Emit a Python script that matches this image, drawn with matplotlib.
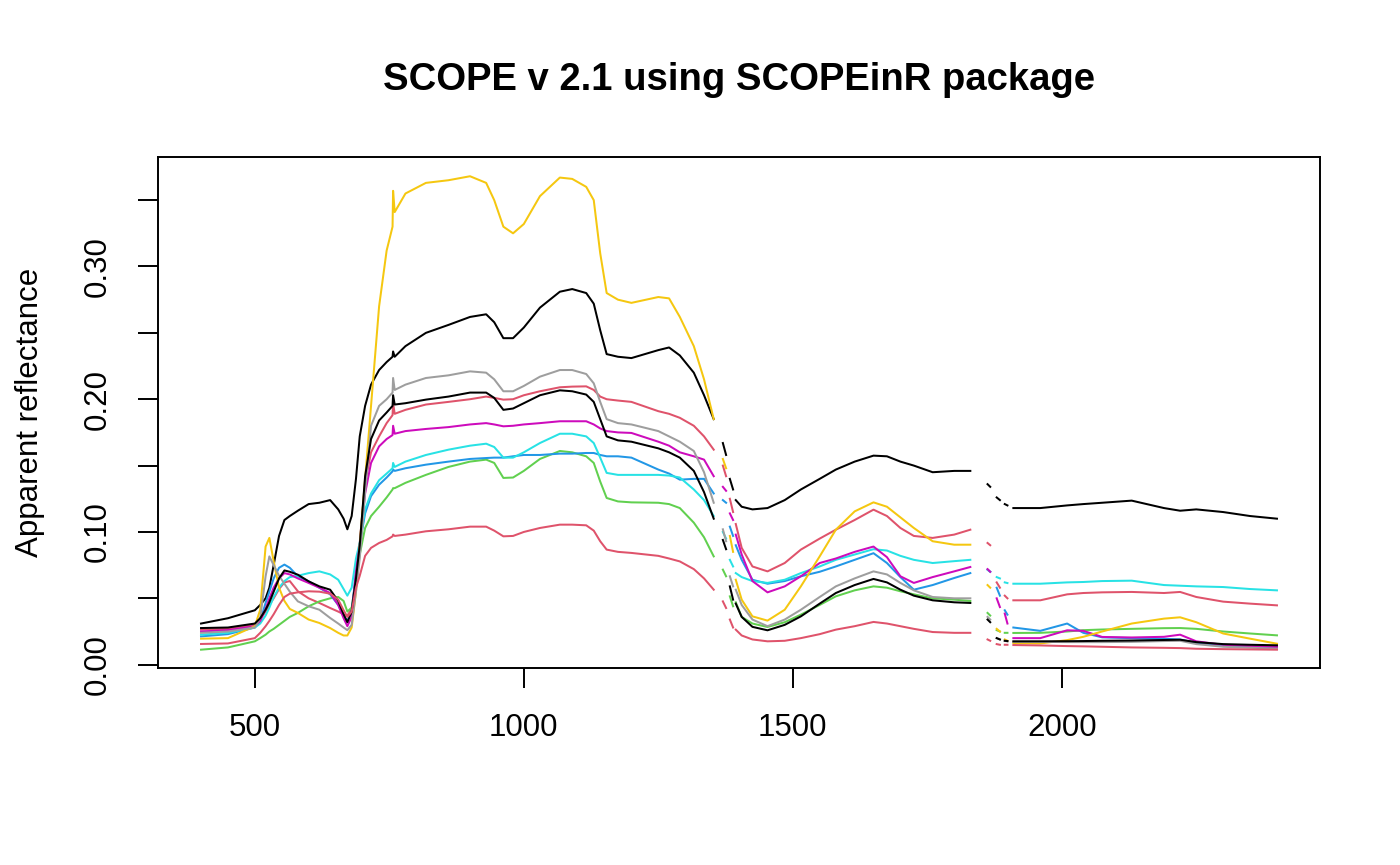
import numpy as np
import matplotlib
matplotlib.use("Agg")
import matplotlib.pyplot as plt

nan = np.nan

# wavelength grid (nm); NaN rows mark missing water-band samples
wl = [400, 450, 500, 510, 520, 527, 535, 545, 555, 565, 580, 600, 620, 640, 655, 665, 672, 680, 688, 695,
      705, 716, 731, 745, 756, 757, 760, 780, 818, 860, 900, 930, 945, 962, 980, 1000, 1030, 1067, 1090, 1116,
      1130, 1142, 1154, 1175, 1200, 1250, 1270, 1290, 1316, 1335, 1353, 1360, 1370, 1376, 1379, 1383, 1389, 1391,
      1394, 1405, 1425, 1453, 1485, 1515, 1550, 1580, 1615, 1650, 1675, 1700, 1725, 1760, 1800, 1830, 1845,
      1862, 1867, 1872, 1879, 1885, 1889, 1894, 1899, 1903, 1910, 1960, 2010, 2040, 2075, 2130, 2190, 2220,
      2250, 2300, 2350, 2400]

black1 = [0.031, 0.035, 0.041, 0.045, 0.050, 0.058, 0.075, 0.097, 0.109, 0.112, 0.116, 0.121, 0.122, 0.124, 0.117, 0.110, 0.102, 0.112, 0.140, 0.172,
          0.195, 0.211, 0.222, 0.228, 0.232, 0.236, 0.232, 0.240, 0.250, 0.256, 0.262, 0.264, 0.258, 0.246, 0.246, 0.254, 0.269, 0.281, 0.283, 0.280,
          0.272, 0.252, 0.234, 0.232, 0.231, 0.237, 0.239, 0.233, 0.220, 0.203, 0.185, nan, 0.167, 0.158, nan, 0.140, 0.132, nan,
          0.124, 0.119, 0.117, 0.118, 0.124, 0.132, 0.140, 0.147, 0.153, 0.1575, 0.157, 0.153, 0.150, 0.145, 0.146, 0.146, nan,
          0.136, 0.134, nan, 0.126, 0.124, nan, 0.121, 0.120, nan, 0.118, 0.118, 0.120, 0.121, 0.122, 0.1236, 0.118, 0.116,
          0.117, 0.115, 0.112, 0.110]

red1 = [0.0264, 0.027, 0.030, 0.034, 0.040, 0.045, 0.050, 0.057, 0.062, 0.063, 0.0553, 0.050, 0.0465, 0.0427, 0.040, 0.038, 0.037, 0.042, 0.065, 0.092,
        0.137, 0.160, 0.172, 0.182, 0.188, 0.197, 0.189, 0.192, 0.196, 0.198, 0.200, 0.202, 0.201, 0.1997, 0.200, 0.203, 0.206, 0.209, 0.2095, 0.2097,
        0.207, 0.202, 0.200, 0.199, 0.198, 0.191, 0.189, 0.186, 0.180, 0.172, 0.162, nan, 0.150, 0.142, nan, 0.125, 0.115, nan,
        0.106, 0.088, 0.074, 0.0703, 0.0766, 0.0867, 0.095, 0.1017, 0.109, 0.1168, 0.112, 0.103, 0.097, 0.0955, 0.098, 0.1017, nan,
        0.0917, 0.090, nan, 0.062, 0.058, nan, 0.052, 0.050, nan, 0.0485, 0.0485, 0.053, 0.054, 0.0545, 0.0548, 0.054, 0.0548,
        0.051, 0.0475, 0.046, 0.0447]

green = [0.0113, 0.013, 0.0176, 0.020, 0.0226, 0.025, 0.027, 0.030, 0.033, 0.036, 0.039, 0.044, 0.0477, 0.050, 0.051, 0.048, 0.040, 0.043, 0.065, 0.083,
         0.103, 0.112, 0.119, 0.126, 0.132, 0.133, 0.133, 0.137, 0.143, 0.149, 0.153, 0.1545, 0.152, 0.1407, 0.141, 0.146, 0.155, 0.161, 0.160, 0.157,
         0.152, 0.138, 0.1256, 0.123, 0.1223, 0.122, 0.121, 0.118, 0.107, 0.096, 0.0816, nan, 0.0716, 0.0666, nan, 0.0515, 0.044, nan,
         0.047, 0.036, 0.031, 0.0284, 0.032, 0.0377, 0.045, 0.0515, 0.056, 0.059, 0.058, 0.0553, 0.053, 0.050, 0.049, 0.048, nan,
         0.039, 0.037, nan, 0.026, 0.025, nan, 0.024, 0.024, nan, 0.0239, 0.024, 0.025, 0.026, 0.0265, 0.027, 0.0275, 0.0276,
         0.027, 0.025, 0.0235, 0.0221]

blue = [0.0213, 0.023, 0.028, 0.033, 0.0465, 0.055, 0.065, 0.073, 0.0754, 0.073, 0.0666, 0.0628, 0.058, 0.053, 0.045, 0.037, 0.033, 0.040, 0.070, 0.091,
        0.114, 0.127, 0.1356, 0.141, 0.1457, 0.147, 0.146, 0.148, 0.1507, 0.153, 0.155, 0.1557, 0.156, 0.156, 0.157, 0.158, 0.158, 0.159, 0.159, 0.1595,
        0.1595, 0.158, 0.157, 0.157, 0.156, 0.147, 0.144, 0.1394, 0.140, 0.140, 0.129, nan, 0.124, 0.122, nan, 0.104, 0.097, nan,
        0.090, 0.079, 0.064, 0.061, 0.063, 0.0666, 0.070, 0.074, 0.079, 0.084, 0.0766, 0.066, 0.0565, 0.060, 0.0653, 0.069, nan,
        0.0716, 0.070, nan, 0.058, 0.052, nan, 0.041, 0.0377, nan, 0.028, 0.0255, 0.031, 0.024, 0.0206, 0.020, 0.0195, 0.019,
        0.0165, 0.014, 0.0135, 0.013]

cyan = [0.0226, 0.024, 0.028, 0.031, 0.037, 0.043, 0.051, 0.058, 0.063, 0.066, 0.067, 0.069, 0.0703, 0.068, 0.064, 0.057, 0.052, 0.058, 0.080, 0.092,
        0.117, 0.129, 0.139, 0.144, 0.148, 0.152, 0.149, 0.153, 0.158, 0.162, 0.165, 0.1665, 0.164, 0.156, 0.156, 0.160, 0.167, 0.174, 0.174, 0.172,
        0.167, 0.156, 0.1445, 0.143, 0.143, 0.143, 0.1425, 0.141, 0.132, 0.124, 0.112, nan, 0.100, 0.095, nan, 0.079, 0.074, nan,
        0.069, 0.066, 0.063, 0.0616, 0.064, 0.069, 0.074, 0.079, 0.083, 0.087, 0.086, 0.082, 0.079, 0.0766, 0.078, 0.079, nan,
        0.0716, 0.070, nan, 0.066, 0.065, nan, 0.062, 0.0615, nan, 0.061, 0.061, 0.062, 0.0623, 0.063, 0.0633, 0.060, 0.0595,
        0.059, 0.0585, 0.057, 0.056]

magenta = [0.025, 0.026, 0.029, 0.033, 0.042, 0.050, 0.058, 0.065, 0.069, 0.068, 0.065, 0.0616, 0.058, 0.054, 0.045, 0.035, 0.029, 0.036, 0.070, 0.090,
           0.129, 0.152, 0.1645, 0.170, 0.173, 0.180, 0.174, 0.176, 0.1776, 0.179, 0.181, 0.182, 0.181, 0.1796, 0.180, 0.181, 0.182, 0.1834, 0.1834, 0.1834,
           0.181, 0.178, 0.176, 0.175, 0.1746, 0.168, 0.165, 0.160, 0.157, 0.1545, 0.142, nan, 0.134, 0.131, nan, 0.114, 0.109, nan,
           0.098, 0.083, 0.063, 0.0545, 0.059, 0.0666, 0.0766, 0.080, 0.085, 0.089, 0.081, 0.0666, 0.0616, 0.066, 0.0703, 0.0736, nan,
           0.072, 0.070, nan, 0.050, 0.0434, nan, 0.0385, 0.031, nan, 0.020, 0.020, 0.0259, 0.0255, 0.0209, 0.0205, 0.021, 0.0226,
           0.0176, 0.015, 0.014, 0.0134]

yellow = [0.0196, 0.020, 0.029, 0.0414, 0.089, 0.0955, 0.078, 0.058, 0.048, 0.042, 0.039, 0.034, 0.0314, 0.0276, 0.024, 0.022, 0.022, 0.028, 0.055, 0.090,
          0.140, 0.195, 0.270, 0.312, 0.330, 0.357, 0.341, 0.355, 0.363, 0.365, 0.368, 0.363, 0.350, 0.330, 0.325, 0.332, 0.353, 0.367, 0.366, 0.360,
          0.350, 0.310, 0.280, 0.275, 0.2726, 0.277, 0.276, 0.262, 0.240, 0.215, 0.185, nan, 0.155, 0.148, nan, 0.097, 0.085, nan,
          0.064, 0.049, 0.0364, 0.0332, 0.0414, 0.059, 0.0816, 0.1017, 0.1155, 0.1223, 0.119, 0.111, 0.103, 0.093, 0.0904, 0.0904, nan,
          0.060, 0.058, nan, 0.027, 0.025, nan, 0.019, 0.018, nan, 0.0163, 0.016, 0.0185, 0.021, 0.025, 0.031, 0.0347, 0.0357,
          0.032, 0.0235, 0.0196, 0.0158]

gray = [0.024, 0.025, 0.028, 0.035, 0.0666, 0.0816, 0.075, 0.067, 0.061, 0.055, 0.0477, 0.044, 0.0414, 0.0352, 0.031, 0.028, 0.026, 0.030, 0.055, 0.080,
        0.130, 0.180, 0.195, 0.200, 0.205, 0.216, 0.207, 0.211, 0.216, 0.218, 0.221, 0.220, 0.215, 0.206, 0.206, 0.210, 0.217, 0.222, 0.222, 0.219,
        0.212, 0.198, 0.185, 0.182, 0.181, 0.176, 0.172, 0.168, 0.161, 0.145, 0.122, nan, 0.102, 0.093, nan, 0.0666, 0.059, nan,
        0.0565, 0.045, 0.034, 0.029, 0.034, 0.0414, 0.051, 0.059, 0.065, 0.0703, 0.068, 0.0616, 0.056, 0.051, 0.050, 0.050, nan,
        0.036, 0.034, nan, 0.020, 0.019, nan, 0.018, 0.0175, nan, 0.0172, 0.0172, 0.017, 0.017, 0.017, 0.0172, 0.0178, 0.018,
        0.0155, 0.0135, 0.0128, 0.012]

black2 = [0.0276, 0.028, 0.031, 0.035, 0.0414, 0.047, 0.055, 0.065, 0.071, 0.070, 0.0678, 0.0628, 0.059, 0.0565, 0.048, 0.038, 0.032, 0.040, 0.065, 0.090,
          0.142, 0.170, 0.184, 0.190, 0.195, 0.203, 0.196, 0.197, 0.1997, 0.202, 0.205, 0.205, 0.201, 0.192, 0.193, 0.197, 0.203, 0.2067, 0.206, 0.2035,
          0.198, 0.185, 0.172, 0.169, 0.168, 0.163, 0.160, 0.156, 0.146, 0.130, 0.110, nan, 0.094, 0.087, nan, 0.059, 0.049, nan,
          0.046, 0.036, 0.0285, 0.0259, 0.030, 0.0364, 0.046, 0.054, 0.060, 0.0646, 0.062, 0.0565, 0.052, 0.0485, 0.047, 0.0465, nan,
          0.034, 0.032, nan, 0.020, 0.019, nan, 0.018, 0.0178, nan, 0.0176, 0.0176, 0.0177, 0.0178, 0.018, 0.0182, 0.0186, 0.0188,
          0.017, 0.0155, 0.015, 0.0146]

red2 = [0.0156, 0.016, 0.020, 0.024, 0.029, 0.033, 0.038, 0.045, 0.051, 0.0535, 0.0545, 0.0553, 0.055, 0.0535, 0.049, 0.041, 0.036, 0.040, 0.058, 0.067,
        0.082, 0.088, 0.0917, 0.094, 0.0967, 0.098, 0.097, 0.098, 0.1005, 0.102, 0.104, 0.104, 0.101, 0.0967, 0.097, 0.100, 0.103, 0.1055, 0.1055, 0.105,
        0.101, 0.093, 0.0867, 0.085, 0.0842, 0.082, 0.080, 0.0778, 0.072, 0.065, 0.0565, nan, 0.0477, 0.0427, nan, 0.034, 0.028, nan,
        0.0264, 0.022, 0.019, 0.0176, 0.018, 0.020, 0.023, 0.0264, 0.029, 0.0322, 0.031, 0.029, 0.027, 0.0246, 0.024, 0.024, nan,
        0.019, 0.018, nan, 0.0155, 0.015, nan, 0.015, 0.015, nan, 0.0148, 0.0145, 0.014, 0.0138, 0.0135, 0.013, 0.0127, 0.0125,
        0.012, 0.0117, 0.0115, 0.0113]

# column order as plotted, R default palette cycling
series = [black1, red1, green, blue, cyan, magenta, yellow, gray, black2, red2]
colors = ["#000000", "#DF536B", "#61D04F", "#2297E6", "#28E2E5",
          "#CD0BBC", "#F5C710", "#9E9E9E", "#000000", "#DF536B"]

plt.rcParams['font.family'] = ['Liberation Sans', 'DejaVu Sans']

fig = plt.figure(figsize=(14, 8.65), dpi=100)
left, right, top, bottom = 158, 1320, 157, 668
ax = fig.add_axes([left / 1400, 1 - bottom / 865, (right - left) / 1400, (bottom - top) / 865])

for s, c in zip(series, colors):
    ax.plot(wl, s, color=c, lw=1.45)

ax.set_xlim(320, 2480)
ax.set_ylim(-0.0025, 0.3825)
ax.set_xticks([500, 1000, 1500, 2000])
yt = np.arange(0, 0.36, 0.05)
ax.set_yticks(yt)
ax.set_yticklabels(["%.2f" % v if i % 2 == 0 else "" for i, v in enumerate(yt)],
                   rotation=90, va='center')
ax.tick_params(direction='out', length=14.5, width=1.4, labelsize=22.5, pad=18)
for sp in ax.spines.values():
    sp.set_linewidth(1.4)

ax.set_ylabel("Apparent reflectance", fontsize=22.5, labelpad=27)
fig.text((left + right) / 2 / 1400, 1 - 80 / 865, "SCOPE v 2.1 using SCOPEinR package",
         ha='center', va='center', fontsize=27.5, fontweight='bold')

fig.savefig("out.png", dpi=100)
